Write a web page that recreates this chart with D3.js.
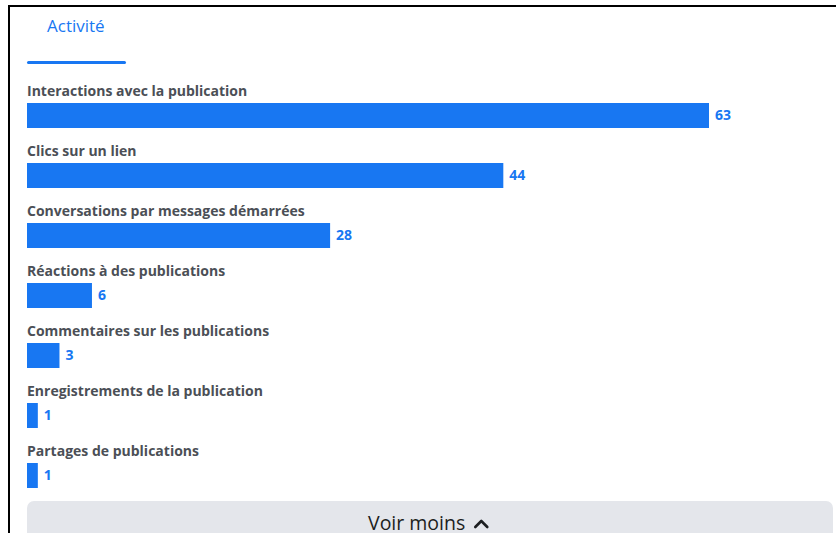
<!DOCTYPE html>
<html>
<head>
<meta charset="utf-8">
<script src="https://cdn.jsdelivr.net/npm/d3@7"></script>
<style>
  html, body { margin: 0; padding: 0; background: #ffffff; }
  svg { display: block; }
</style>
</head>
<body>
<svg id="chart" width="836" height="533"></svg>
<script>
// Post activity metrics
const categories = [
  "Interactions avec la publication",
  "Clics sur un lien",
  "Conversations par messages démarrées",
  "Réactions à des publications",
  "Commentaires sur les publications",
  "Enregistrements de la publication",
  "Partages de publications"
];
const values = [63, 44, 28, 6, 3, 1, 1];
const tabTitle = "Activité";
const buttonLabel = "Voir moins";

const W = 836, H = 533;
const blue = "#1877F2";
const labelColor = "#4b4f56";
const font = "'Open Sans', 'Noto Sans', sans-serif";

const svg = d3.select("#chart");

// Panel frame (top and left edges)
svg.append("rect").attr("x", 8).attr("y", 5).attr("width", W - 8).attr("height", 2).attr("fill", "#000");
svg.append("rect").attr("x", 8).attr("y", 5).attr("width", 2).attr("height", H - 5).attr("fill", "#000");

// Tab header
svg.append("text")
  .attr("x", 47).attr("y", 32)
  .attr("font-family", font).attr("font-size", 17).attr("font-weight", 500)
  .attr("fill", blue)
  .text(tabTitle);
svg.append("rect").attr("x", 27).attr("y", 61).attr("width", 99).attr("height", 3)
  .attr("rx", 1.5).attr("fill", blue);

// Scales
const x = d3.scaleLinear().domain([0, 63]).range([27, 709]);
const y = d3.scaleBand().domain(categories).range([80, 500]).paddingInner(0).paddingOuter(0);
const barH = 25;
const barOffset = 23;

const rows = svg.append("g").selectAll("g.row")
  .data(categories.map((c, i) => ({ c, v: values[i] })))
  .join("g").attr("class", "row")
  .attr("transform", d => `translate(0,${y(d.c)})`);

rows.append("text")
  .attr("x", 27).attr("y", 15.5)
  .attr("font-family", font).attr("font-size", 14).attr("font-weight", 700)
  .attr("fill", labelColor)
  .text(d => d.c);

rows.append("rect")
  .attr("x", x(0)).attr("y", barOffset)
  .attr("width", d => x(d.v) - x(0)).attr("height", barH)
  .attr("fill", blue);

rows.append("text")
  .attr("x", d => x(d.v) + 6).attr("y", barOffset + barH / 2)
  .attr("dy", "0.35em")
  .attr("font-family", font).attr("font-size", 14).attr("font-weight", 700)
  .attr("fill", blue)
  .text(d => d.v);

// "Voir moins" button
const btn = svg.append("g");
btn.append("rect").attr("x", 27).attr("y", 501).attr("width", 806).attr("height", 50)
  .attr("rx", 7).attr("fill", "#e4e6eb");
const btnText = btn.append("text")
  .attr("x", 368).attr("y", 530)
  .attr("font-family", font).attr("font-size", 19.5).attr("font-weight", 500)
  .attr("fill", "#1c1e21")
  .text(buttonLabel);
const tEnd = 368 + btnText.node().getComputedTextLength();
btn.append("path")
  .attr("d", `M${tEnd + 10},527 L${tEnd + 16},521 L${tEnd + 22},527`)
  .attr("fill", "none").attr("stroke", "#1c1e21").attr("stroke-width", 2.6)
  .attr("stroke-linecap", "round").attr("stroke-linejoin", "round");
</script>
</body>
</html>
